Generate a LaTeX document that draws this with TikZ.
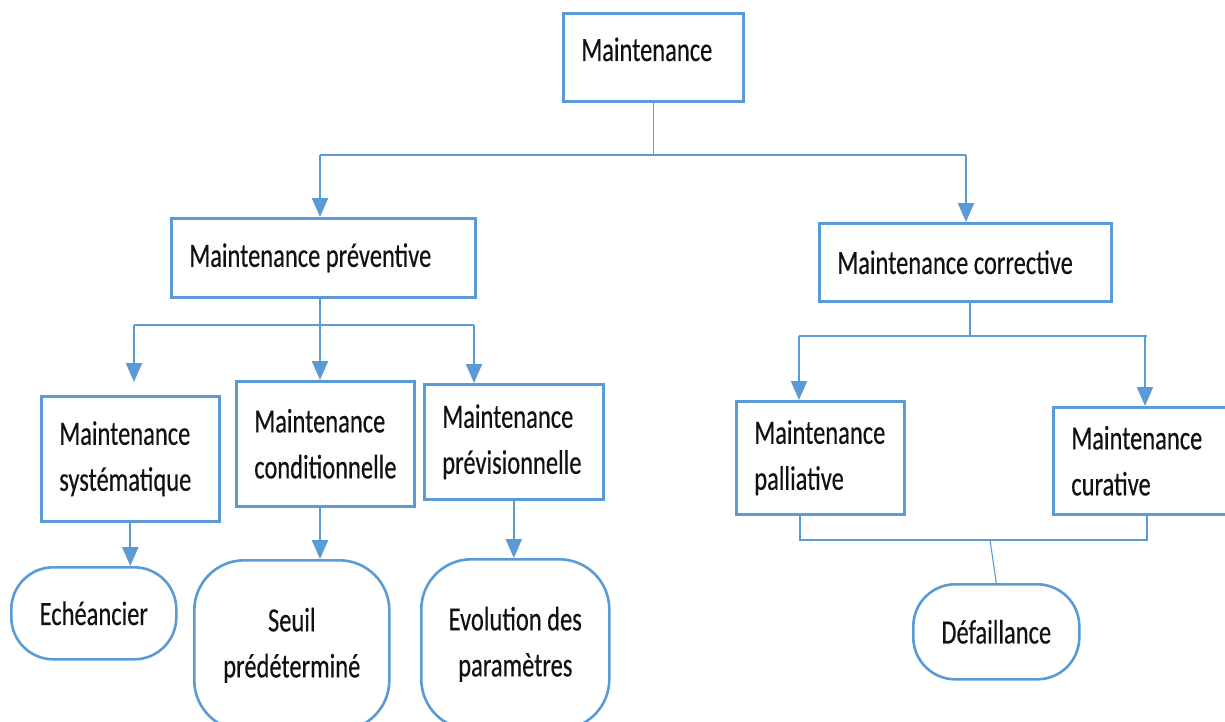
\documentclass[tikz,border=0pt]{standalone}
\usepackage{fontspec}
\setmainfont{Carlito}[FakeStretch=0.72, FakeBold=0.3]
\usetikzlibrary{arrows.meta}
\definecolor{boxblue}{HTML}{5B9BD5}
\definecolor{inkgray}{HTML}{111111}
% label font with rigid interword spaces
\DeclareRobustCommand\lblfont{\fontsize{34}{46}\selectfont\spaceskip=\fontdimen2\font\relax}
\begin{document}
\begin{tikzpicture}[x=1pt,y=-1pt,
  lbl/.style={font=\lblfont, text=inkgray},
  sqbox/.style={lbl, draw=boxblue, line width=2.6pt, rectangle, anchor=north west,
    inner xsep=18pt, inner ysep=0pt, align=flush left},
  rndbox/.style={lbl, draw=boxblue, line width=2.6pt, rectangle, rounded corners=42pt,
    anchor=north west, inner sep=0pt, align=center},
  bus/.style={draw=boxblue, line width=1.4pt},
  stem/.style={draw=boxblue, line width=1.1pt},
  arr/.style={draw=boxblue, line width=2.2pt, -{Triangle[width=16pt,length=19pt]}}
]
\fill[white] (0,0) rectangle (1225,722);
\path[use as bounding box] (0,0) rectangle (1225,722);
\clip (0,0) rectangle (1225,722);

% boxes
\node[sqbox, minimum width=180pt, minimum height=88pt, text width=144pt, text depth=16pt] (root) at (562,12) {Maintenance};
\node[sqbox, minimum width=304pt, minimum height=79pt, text width=268pt] (prev) at (170,217) {Maintenance préventive};
\node[sqbox, minimum width=292pt, minimum height=78pt, text width=256pt] (corr) at (818,222) {Maintenance corrective};
\node[sqbox, minimum width=178pt, minimum height=125pt, text width=142pt] (sys) at (40,395) {Maintenance\\systématique};
\node[sqbox, minimum width=178pt, minimum height=125pt, text width=142pt] (cond) at (235,380) {Maintenance\\conditionnelle};
\node[sqbox, minimum width=179pt, minimum height=115pt, text width=143pt] (previ) at (423,383) {Maintenance\\prévisionnelle};
\node[sqbox, minimum width=168pt, minimum height=113pt, text width=132pt] (pall) at (735,400) {Maintenance\\palliative};
\node[sqbox, minimum width=190pt, minimum height=107pt, text width=154pt] (cur) at (1052,406) {Maintenance\\curative};

% rounded end nodes
\node[rndbox, minimum width=165pt, minimum height=92pt] (ech) at (10,566) {Echéancier};
\node[rndbox, rounded corners=50pt, minimum width=195pt, minimum height=170pt] (seuil) at (193,559) {Seuil\\prédéterminé};
\node[rndbox, rounded corners=50pt, minimum width=188pt, minimum height=170pt] (evol) at (420,558) {Evolution des\\paramètres};
\node[rndbox, minimum width=166pt, minimum height=95pt] (defa) at (912,583) {Défaillance};

% first level
\coordinate (b1L) at (320,155);
\coordinate (b1R) at (966,155);
\draw[stem] (root.south) -- (root.south |- b1L);
\draw[bus] (b1L) -- (b1R);
\draw[arr] (b1L) -- (prev.north -| b1L);
\draw[arr] (b1R) -- (corr.north -| b1R);

% preventive branch
\coordinate (b2L) at (134,325);
\coordinate (b2M) at (320,325);
\coordinate (b2R) at (474,325);
\draw[stem] (prev.south -| b2M) -- (b2M);
\draw[bus] (b2L) -- (b2R);
\draw[arr, shorten >=13pt] (b2L) -- (sys.north -| b2L);
\draw[arr] (b2M) -- (cond.north -| b2M);
\draw[arr] (b2R) -- (previ.north -| b2R);
\draw[arr] (sys.south) -- (sys.south |- ech.north);
\draw[arr] (cond.south -| b2M) -- (seuil.north -| b2M);
\draw[arr] (previ.south) -- (previ.south |- evol.north);

% corrective branch
\coordinate (b3L) at (799,336);
\coordinate (b3M) at (970,336);
\coordinate (b3R) at (1145,336);
\draw[stem] (corr.south -| b3M) -- (b3M);
\draw[bus] (b3L) -- (1147,336);
\draw[arr] (b3L) -- (pall.north -| b3L);
\draw[arr] (b3R) -- (cur.north -| b3R);

% joining to failure
\coordinate (b4L) at (800,540);
\coordinate (b4M) at (990,540);
\coordinate (b4R) at (1147,540);
\draw[bus] (pall.south -| b4L) -- (b4L) -- (b4R) -- (cur.south -| b4R);
\draw[stem] (b4M) -- (defa.north);
\end{tikzpicture}
\end{document}
